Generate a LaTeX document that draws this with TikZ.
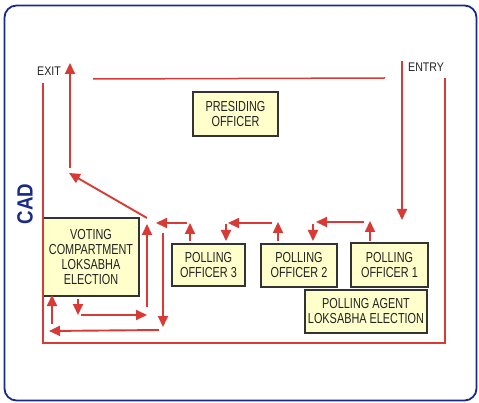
\documentclass[tikz,border=0pt]{standalone}
\usepackage{fontspec}
\setmainfont{Liberation Sans}
\newfontfamily\boxfont[FakeStretch=0.75]{Liberation Sans}
\newfontfamily\lblfont[FakeStretch=0.85]{Liberation Sans}
\newfontfamily\cadfont[FakeStretch=0.85]{Liberation Sans}
\usetikzlibrary{arrows.meta}
\definecolor{redline}{HTML}{D83A36}
\definecolor{boxfill}{HTML}{FFFFCC}
\definecolor{boxedge}{HTML}{333333}
\definecolor{navy}{HTML}{1A2A88}
\definecolor{txt}{HTML}{222222}
\tikzset{
  desk/.style={draw=boxedge, line width=1.2pt, fill=boxfill, inner sep=0pt,
    align=center, text=txt, font=\boxfont\fontsize{14.5}{15}\selectfont},
  flow/.style={draw=redline, line width=1.9pt, -{Triangle[length=11pt,width=10pt]}},
  wall/.style={draw=redline, line width=1.5pt},
  lbl/.style={text=txt, font=\lblfont\fontsize{12.5}{13}\selectfont, inner sep=0pt}
}
\begin{document}
\begin{tikzpicture}[x=1pt,y=-1pt]
\useasboundingbox (0,0) rectangle (479,403);
% outer frame
\draw[navy, line width=1.8pt, rounded corners=12pt] (4.5,5.5) rectangle (476.5,400.5);
% CAD
\node[rotate=90, text=navy, font=\cadfont\bfseries\fontsize{22}{22}\selectfont, inner sep=0pt] (cad) at (25,204) {CAD};
% desks
\node[desk, minimum width=85pt, minimum height=44pt] (pres) at (235.5,114) {PRESIDING\\OFFICER};
\node[desk, minimum width=96pt, minimum height=78pt] (vc) at (91,257) {VOTING\\COMPARTMENT\\LOKSABHA\\ELECTION};
\node[desk, minimum width=73pt, minimum height=42pt] (po3) at (208.5,265) {POLLING\\OFFICER 3};
\node[desk, minimum width=76pt, minimum height=43pt] (po2) at (299,265.5) {POLLING\\OFFICER 2};
\node[desk, minimum width=77pt, minimum height=44pt] (po1) at (389.5,265) {POLLING\\OFFICER 1};
\node[desk, minimum width=122pt, minimum height=43pt] (pa) at (366,311.5) {POLLING AGENT\\LOKSABHA ELECTION};
% labels
\node[lbl, anchor=west] (exit) at (37,71) {EXIT};
\node[lbl, anchor=west] (entry) at (408,67) {ENTRY};
% walls
\coordinate (wtl) at (43,83);
\coordinate (wbl) at (43,343);
\coordinate (wbr) at (445,343);
\coordinate (wtr) at (445,78);
\draw[wall] (wtl) -- (wbl) -- (wbr) -- (wtr);
\coordinate (tl) at (93,79);
\coordinate (tr) at (385,78);
\draw[wall] (tl) -- (tr);
% entry and exit
\coordinate (en0) at (402,61);
\coordinate (en1) at (402,220);
\draw[flow] (en0) -- (en1);
\coordinate (ex0) at (70,168);
\coordinate (ex1) at (70,63);
\draw[flow] (ex0) -- (ex1);
\coordinate (d0) at (147,218);
\coordinate (d1) at (69,173);
\draw[flow] (d0) -- (d1);
% officer chain
\coordinate (a1) at (370,241); \coordinate (a2) at (370,221);
\draw[flow] (a1) -- (a2);
\coordinate (h1a) at (364,222); \coordinate (h1b) at (316,222);
\draw[flow] (h1a) -- (h1b);
\coordinate (b1) at (313,224); \coordinate (b2) at (313,241);
\draw[flow] (b1) -- (b2);
\coordinate (c1) at (278,241); \coordinate (c2) at (278,222);
\draw[flow] (c1) -- (c2);
\coordinate (h2a) at (272,223); \coordinate (h2b) at (228,223);
\draw[flow] (h2a) -- (h2b);
\coordinate (e1) at (226,224); \coordinate (e2) at (226,241);
\draw[flow] (e1) -- (e2);
\coordinate (f1) at (190,241); \coordinate (f2) at (190,223);
\draw[flow] (f1) -- (f2);
\coordinate (h3a) at (187,223); \coordinate (h3b) at (156,223);
\draw[flow] (h3a) -- (h3b);
% voting compartment loop
\coordinate (g1) at (147,307); \coordinate (g2) at (147,224);
\draw[flow] (g1) -- (g2);
\coordinate (k1) at (163,233); \coordinate (k2) at (163,327);
\draw[flow] (k1) -- (k2);
\coordinate (m1) at (159,330); \coordinate (m2) at (49,331);
\draw[flow] (m1) -- (m2);
\coordinate (n1) at (52,324); \coordinate (n2) at (52,295);
\draw[flow] (n1) -- (n2);
\coordinate (p1) at (78,299); \coordinate (p2) at (78,315);
\draw[flow] (p1) -- (p2);
\coordinate (q1) at (81,315); \coordinate (q2) at (147,315);
\draw[flow] (q1) -- (q2);
\end{tikzpicture}
\end{document}
